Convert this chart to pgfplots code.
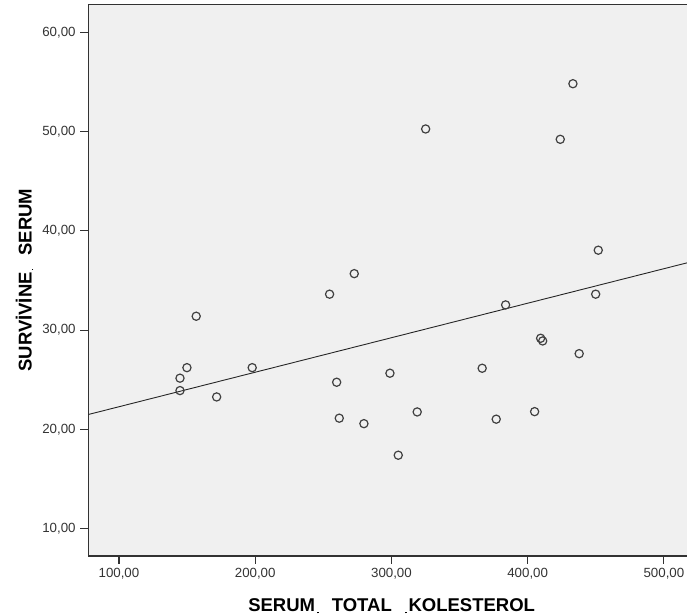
\documentclass[border=0pt]{standalone}
\usepackage{fontspec}
\setmainfont{Liberation Sans}
\usepackage{pgfplots}
\pgfplotsset{compat=1.18}
\newlength\px
\setlength\px{0.75pt}
\definecolor{bgc}{RGB}{240,240,240}
\definecolor{axc}{RGB}{50,50,50}
\newcommand{\dotgapL}{\hspace*{0.1em}\rule[-1.5\px]{1.6\px}{1.6\px}\hspace*{0.72em}}
\newcommand{\dotgapR}{\hspace*{0.72em}\rule[-1.5\px]{1.6\px}{1.6\px}\hspace*{0.1em}}
\begin{document}
\begin{tikzpicture}
\useasboundingbox (0,0) rectangle (687\px,616\px);
\begin{axis}[
  at={(88.3\px,60\px)}, anchor=south west,
  scale only axis,
  width=606.7\px, height=551.7\px,
  xmin=77.5, xmax=522.8,
  ymin=7.25, ymax=62.82,
  xtick={100,200,300,400,500},
  ytick={10,20,30,40,50,60},
  xtick pos=left, ytick pos=left,
  tick align=outside,
  major tick length=8\px,
  tick style={axc, line width=1.1\px},
  axis line style={axc, line width=1.3\px},
  axis background/.style={fill=bgc},
  /pgf/number format/.cd, fixed, fixed zerofill, precision=2, use comma, 1000 sep={}, assume math mode=true,
  /pgfplots/.cd,
  ticklabel style={font=\fontsize{13.3\px}{15\px}\selectfont, text=black!80},
  xlabel={SERUM\dotgapL TOTAL\dotgapR KOLESTEROL},
  ylabel={SURVİVİNE\dotgapL SERUM},
  label style={font=\fontsize{18.5\px}{20\px}\selectfont\bfseries},
  xlabel style={at={(axis description cs:0.5,-0.1015)}, anchor=base},
  ylabel style={at={(axis description cs:-0.0933,0.5)}, anchor=base, rotate=0},
  clip=true,
]
\addplot[only marks, mark=o, mark size=3.08pt, mark options={draw=black!75, line width=0.9pt}] coordinates {
(144.8,25.16) (144.8,23.91) (149.9,26.22) (156.7,31.40) (171.7,23.27)
(197.8,26.22) (254.6,33.62) (259.8,24.75) (261.7,21.13) (279.8,20.58)
(298.9,25.66) (318.9,21.76) (305.0,17.40) (433.2,54.82) (325.1,50.26)
(423.9,49.22) (451.8,38.05) (272.7,35.69) (383.8,32.54) (449.9,33.62)
(409.5,29.18) (411.0,28.91) (437.8,27.63) (366.6,26.16) (376.9,21.03)
(405.1,21.79)
};
\addplot[black!85, line width=0.9\px] coordinates {(77.5,21.50) (522.8,36.98)};
\end{axis}
\end{tikzpicture}
\end{document}
